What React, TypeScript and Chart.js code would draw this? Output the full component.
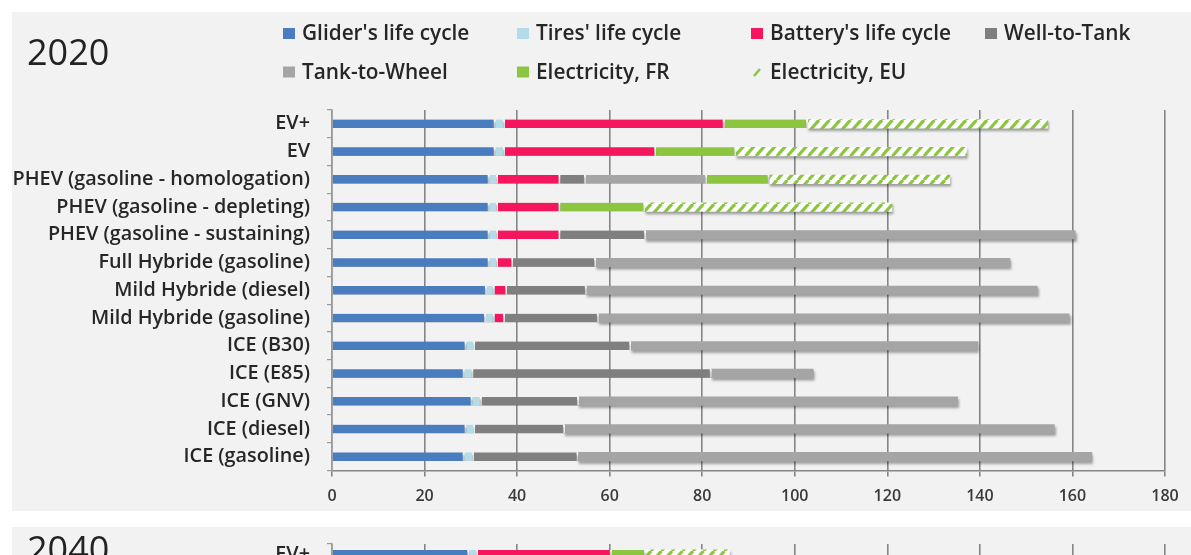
import React, { useEffect, useRef } from 'react';
import { Chart, registerables } from 'chart.js';

Chart.register(...registerables);

// ---------- data ----------
const categories = [
  'EV+',
  'EV',
  'PHEV (gasoline - homologation)',
  'PHEV (gasoline - depleting)',
  'PHEV (gasoline - sustaining)',
  'Full Hybride (gasoline)',
  'Mild Hybride (diesel)',
  'Mild Hybride (gasoline)',
  'ICE (B30)',
  'ICE (E85)',
  'ICE (GNV)',
  'ICE (diesel)',
  'ICE (gasoline)',
];

const seriesLabels = [
  "Glider's life cycle",
  "Tires' life cycle",
  "Battery's life cycle",
  'Well-to-Tank',
  'Tank-to-Wheel',
  'Electricity, FR',
  'Electricity, EU',
];

const xMin = 0;
const xMax = 180;
const xStep = 20;

// 2020
const glider2020 = [35.3, 35.3, 34.0, 34.0, 34.0, 34.0, 33.4, 33.2, 29.0, 28.6, 30.3, 29.0, 28.6];
const tires2020 = [2.0, 2.0, 1.8, 1.8, 1.8, 1.8, 1.7, 1.9, 1.9, 1.9, 2.0, 1.9, 2.0];
const battery2020 = [47.5, 32.7, 13.5, 13.5, 13.5, 3.3, 2.7, 2.2, null, null, null, null, null];
const wellToTank2020 = [null, null, 5.5, null, 18.5, 17.9, 17.2, 20.3, 33.7, 51.5, 21.0, 19.4, 22.6];
const tankToWheel2020 = [null, null, 26.2, null, 92.8, 89.5, 97.4, 101.7, 75.0, 22.0, 81.9, 105.8, 111.0];
const elecFR2020 = [18.0, 17.3, 13.5, 18.3, null, null, null, null, null, null, null, null, null];
const elecEU2020 = [51.8, 49.8, 39.0, 53.4, null, null, null, null, null, null, null, null, null];

// 2040 (only the top row is visible in the reference)
const glider2040 = [29.6, null, null, null, null, null, null, null, null, null, null, null, null];
const tires2040 = [1.9, null, null, null, null, null, null, null, null, null, null, null, null];
const battery2040 = [28.9, null, null, null, null, null, null, null, null, null, null, null, null];
const wellToTank2040 = [null, null, null, null, null, null, null, null, null, null, null, null, null];
const tankToWheel2040 = [null, null, null, null, null, null, null, null, null, null, null, null, null];
const elecFR2040 = [7.4, null, null, null, null, null, null, null, null, null, null, null, null];
const elecEU2040 = [18.1, null, null, null, null, null, null, null, null, null, null, null, null];

// ---------- styles ----------
const COLORS = ['#4a7dc0', '#b4dce8', '#f5175e', '#7f7f7f', '#a5a5a5', '#8cc641'];
const HATCH_GREEN = '#8cc641';
const PANEL_BG = '#f2f2f2';
const GRID = '#858585';
const FONT = '"Open Sans", "DejaVu Sans", sans-serif';

function makeHatch(): CanvasPattern | string {
  const tile = document.createElement('canvas');
  const w = 10.5;
  const h = 12;
  tile.width = 21;
  tile.height = 12;
  const c = tile.getContext('2d');
  if (!c) return HATCH_GREEN;
  c.fillStyle = '#ffffff';
  c.fillRect(0, 0, 21, h);
  c.strokeStyle = HATCH_GREEN;
  c.lineWidth = 3.2;
  for (const x0 of [-w, 0, w, 2 * w]) {
    c.beginPath();
    c.moveTo(x0, h);
    c.lineTo(x0 + w, 0);
    c.stroke();
  }
  const p = c.createPattern(tile, 'repeat');
  return p || HATCH_GREEN;
}

const panelPlugin = {
  id: 'panel',
  beforeDraw(chart: any, _a: any, opts: any) {
    const ctx = chart.ctx;
    ctx.save();
    ctx.fillStyle = PANEL_BG;
    ctx.fillRect(opts.x, opts.y, chart.width - opts.x, opts.h);
    ctx.restore();
  },
  afterDraw(chart: any, _a: any, opts: any) {
    const ctx = chart.ctx;
    ctx.save();
    ctx.fillStyle = '#222222';
    ctx.font = `36px ${FONT}`;
    ctx.textBaseline = 'alphabetic';
    ctx.textAlign = 'left';
    ctx.fillText(opts.title, opts.titleX, opts.titleY);

    if (opts.legend) {
      const ds = chart.data.datasets;
      ctx.font = `600 20.8px ${FONT}`;
      ctx.textBaseline = 'middle';
      ds.forEach((d: any, i: number) => {
        const col = i % 4;
        const row = Math.floor(i / 4);
        const bx = opts.legendX + col * opts.legendColW;
        const cy = opts.legendY + row * opts.legendRowH;
        const bg = d.backgroundColor;
        if (typeof bg === 'string') {
          ctx.fillStyle = bg;
          ctx.fillRect(bx, cy - 5.5, 12, 11);
        } else {
          ctx.strokeStyle = HATCH_GREEN;
          ctx.lineWidth = 2.6;
          ctx.beginPath();
          ctx.moveTo(bx + 3, cy + 4);
          ctx.lineTo(bx + 9, cy - 3);
          ctx.stroke();
        }
        ctx.fillStyle = '#262626';
        ctx.fillText(d.label, bx + 19, cy + 1);
      });
    }
    ctx.restore();
  },
};

const shadowPlugin = {
  id: 'barShadow',
  beforeDatasetsDraw(chart: any) {
    const ctx = chart.ctx;
    ctx.save();
    ctx.shadowColor = 'rgba(0,0,0,0.35)';
    ctx.shadowBlur = 2.5;
    ctx.shadowOffsetX = 1;
    ctx.shadowOffsetY = 2.5;
  },
  afterDatasetsDraw(chart: any) {
    chart.ctx.restore();
  },
};

function buildConfig(series: (number | null)[][], hatch: any, panel: any, pad: any) {
  const datasets = series.map((data, i) => ({
    label: seriesLabels[i],
    data,
    backgroundColor: i === 6 ? hatch : COLORS[i],
    borderColor: '#ffffff',
    borderSkipped: false,
    borderWidth: (c: any) => {
      const all = c.chart.data.datasets;
      for (let k = c.datasetIndex + 1; k < all.length; k++) {
        const v = all[k].data[c.dataIndex];
        if (v) return { top: 0, bottom: 0, left: 0, right: 2 };
      }
      return 0;
    },
    barThickness: 8.5,
  }));
  return {
    type: 'bar' as const,
    data: { labels: categories, datasets },
    plugins: [panelPlugin, shadowPlugin],
    options: {
      indexAxis: 'y' as const,
      responsive: false,
      animation: false as const,
      devicePixelRatio: 1,
      layout: { padding: pad },
      plugins: {
        legend: { display: false },
        tooltip: { enabled: false },
        title: { display: false },
        panel,
      },
      scales: {
        x: {
          stacked: true,
          min: xMin,
          max: xMax,
          ticks: {
            stepSize: xStep,
            color: '#3a3a3a',
            font: { family: FONT, size: 16, weight: 600 },
            padding: 10,
          },
          grid: {
            color: GRID,
            lineWidth: 1.6,
            drawTicks: true,
            tickLength: 6,
            tickColor: GRID,
          },
          border: { display: true, color: GRID, width: 1.5 },
          afterFit: (s: any) => {
            s.height = 35;
          },
        },
        y: {
          stacked: true,
          ticks: {
            color: '#262626',
            font: { family: FONT, size: 19.8, weight: 600 },
            padding: 17,
            autoSkip: false,
          },
          grid: {
            offset: true,
            drawOnChartArea: false,
            drawTicks: true,
            tickLength: 5,
            tickColor: '#9a9a9a',
            lineWidth: 1.2,
          },
          border: { display: true, color: '#9a9a9a', width: 1.5 },
          afterFit: (s: any) => {
            s.width = 332;
          },
        },
      },
    },
  };
}

function ChartPanel(props: { top: number; height: number; build: (hatch: any) => any }) {
  const ref = useRef<HTMLCanvasElement | null>(null);
  useEffect(() => {
    if (!ref.current) return;
    const hatch = makeHatch();
    const cfg = props.build(hatch);
    const chart = new Chart(ref.current, cfg as any);
    return () => chart.destroy();
  }, []);
  return (
    <canvas
      ref={ref}
      width={1191}
      height={props.height}
      style={{ position: 'absolute', left: 0, top: props.top, width: 1191, height: props.height, display: 'block' }}
    />
  );
}

export default function App() {
  const s2020 = [glider2020, tires2020, battery2020, wellToTank2020, tankToWheel2020, elecFR2020, elecEU2020];
  const s2040 = [glider2040, tires2040, battery2040, wellToTank2040, tankToWheel2040, elecFR2040, elecEU2040];
  return (
    <div
      style={{
        position: 'absolute',
        left: 0,
        top: 0,
        width: 1191,
        height: 555,
        overflow: 'hidden',
        background: '#ffffff',
      }}
    >
      <ChartPanel
        top={0}
        height={515}
        build={(hatch) =>
          buildConfig(
            s2020,
            hatch,
            {
              x: 12,
              y: 12,
              h: 499,
              title: '2020',
              titleX: 27,
              titleY: 65,
              legend: true,
              legendX: 283,
              legendY: 33.5,
              legendColW: 234,
              legendRowH: 38.5,
            },
            { left: 0, right: 26, top: 110, bottom: 9.5 }
          )
        }
      />
      <ChartPanel
        top={515}
        height={360}
        build={(hatch) =>
          buildConfig(
            s2040,
            hatch,
            {
              x: 12,
              y: 12,
              h: 400,
              title: '2040',
              titleX: 27,
              titleY: 47,
              legend: false,
            },
            { left: 0, right: 26, top: 24, bottom: 28 }
          )
        }
      />
    </div>
  );
}
